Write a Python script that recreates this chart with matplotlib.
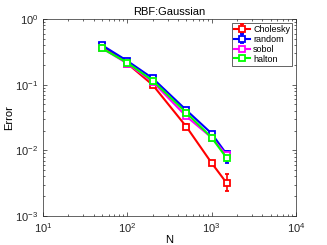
import numpy as np
import matplotlib
matplotlib.use("Agg")
import matplotlib.pyplot as plt

plt.rcParams['font.family'] = ['Liberation Sans', 'DejaVu Sans']
plt.rcParams['mathtext.fontset'] = 'custom'
plt.rcParams['mathtext.rm'] = 'Liberation Sans'

# data
N = [50, 100, 200, 500, 1000, 1500]
chol = [0.39, 0.21, 0.099, 0.023, 0.0064, 0.0032]
chol_lo = [0.01, 0.005, 0.004, 0.002, 0.0004, 0.0008]
chol_hi = [0.01, 0.005, 0.004, 0.002, 0.0004, 0.0011]
rand = [0.40, 0.23, 0.125, 0.041, 0.018, 0.0088]
rand_lo = [0.01, 0.006, 0.006, 0.002, 0.0012, 0.0024]
rand_hi = [0.01, 0.006, 0.006, 0.002, 0.0012, 0.0010]
sobol = [0.36, 0.21, 0.11, 0.033, 0.0156, 0.0085]
halton = [0.357, 0.216, 0.115, 0.0375, 0.0156, 0.0077]

series = [
    ('Cholesky', chol, [chol_lo, chol_hi], (1, 0, 0)),
    ('random', rand, [rand_lo, rand_hi], (0, 0, 1)),
    ('sobol', sobol, None, (1, 0, 1)),
    ('halton', halton, None, (0, 1, 0)),
]

fig = plt.figure(figsize=(3.27, 2.45), dpi=100)
ax = fig.add_axes([0.1315, 0.1184, 0.7737, 0.804])

for name, y, err, c in series:
    ax.errorbar(N, y, yerr=err, color=c, lw=1.5, marker='s', ms=4,
                mfc='white', mec=c, mew=1.3, capsize=1.5, elinewidth=1.2,
                label=name)

ax.set_xscale('log')
ax.set_yscale('log')
ax.set_xlim(10, 1e4)
ax.set_ylim(1e-3, 1)
ax.tick_params(which='both', direction='in', top=True, right=True,
               labelsize=8, width=0.5, colors='#262626')
ax.tick_params(which='major', length=3)
ax.tick_params(which='minor', length=1.5)
for s in ax.spines.values():
    s.set_linewidth(0.5)
    s.set_color('#262626')

ax.set_title('RBF:Gaussian', fontsize=8, pad=3)
ax.set_xlabel('N', fontsize=8, labelpad=0)
ax.set_ylabel('Error', fontsize=8)
ax.yaxis.set_label_coords(-0.115, 0.5)

leg = ax.legend(loc='upper right', fontsize=6.5, fancybox=False,
                framealpha=1, edgecolor='#262626', borderpad=0.25,
                labelspacing=0.1, handlelength=1.8, handletextpad=0.3,
                borderaxespad=0.4)
leg.get_frame().set_linewidth(0.5)

fig.savefig('out.png', dpi=100)
